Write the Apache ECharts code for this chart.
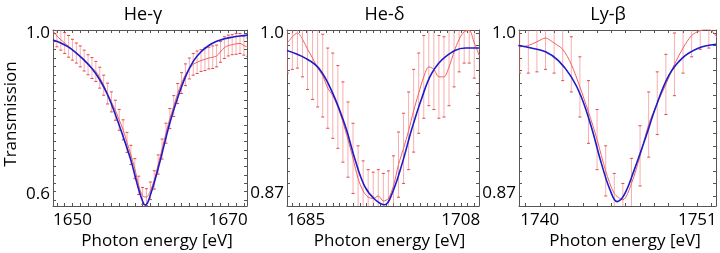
<!DOCTYPE html>
<html>
<head>
<meta charset="utf-8">
<script src="https://cdn.jsdelivr.net/npm/echarts@6/dist/echarts.min.js"></script>
<style>html,body{margin:0;padding:0;background:#fff}#c{width:720px;height:253px}</style>
</head>
<body>
<div id="c"></div>
<script>
// ---------- He-gamma ----------
const heG_E = [1647.5,1648.0,1648.5,1649.0,1649.5,1650.0,1650.5,1651.0,1651.5,1652.0,1652.5,1653.0,1653.5,1654.0,1654.5,1655.0,1655.5,1656.0,1656.5,1657.0,1657.5,1658.0,1658.5,1659.0,1659.5,1660.0,1660.5,1661.0,1661.5,1662.0,1662.5,1663.0,1663.5,1664.0,1664.5,1665.0,1665.5,1666.0,1666.5,1667.0,1667.5,1668.0,1668.5,1669.0,1669.5,1670.0,1670.5,1671.0,1671.5,1672.0,1672.5];
const heG_T = [1.005,0.993,0.984,0.976,0.968,0.960,0.952,0.944,0.934,0.924,0.916,0.908,0.893,0.875,0.855,0.835,0.815,0.792,0.768,0.738,0.708,0.675,0.635,0.610,0.607,0.622,0.648,0.685,0.722,0.760,0.795,0.825,0.855,0.880,0.900,0.915,0.925,0.930,0.934,0.937,0.940,0.942,0.945,0.955,0.965,0.970,0.972,0.974,0.975,0.970,0.966];
const heG_err = [0.026,0.026,0.025,0.025,0.026,0.025,0.024,0.025,0.025,0.024,0.025,0.024,0.025,0.024,0.025,0.024,0.024,0.025,0.024,0.024,0.023,0.024,0.022,0.020,0.020,0.021,0.022,0.023,0.024,0.024,0.024,0.025,0.024,0.025,0.026,0.025,0.026,0.027,0.026,0.027,0.026,0.027,0.026,0.025,0.026,0.025,0.024,0.025,0.024,0.023,0.022];
const heG_fitE = [1647.5,1648.5,1649.5,1650.5,1651.5,1652.5,1653.5,1654.5,1655.5,1656.5,1657.5,1658.0,1658.5,1659.0,1659.3,1659.6,1660.0,1660.5,1661.0,1661.5,1662.5,1663.5,1664.5,1665.5,1666.5,1667.5,1668.5,1669.5,1670.5,1671.5,1672.5];
const heG_fitT = [0.983,0.976,0.966,0.952,0.935,0.915,0.888,0.852,0.805,0.752,0.695,0.660,0.625,0.597,0.588,0.592,0.612,0.642,0.676,0.712,0.785,0.845,0.895,0.932,0.955,0.970,0.980,0.986,0.990,0.993,0.995];

// ---------- He-delta ----------
const heD_E = [1682.25,1683.0,1683.75,1684.5,1685.25,1686.0,1686.75,1687.5,1688.25,1689.0,1689.75,1690.5,1691.25,1692.0,1692.75,1693.5,1694.25,1695.0,1695.75,1696.5,1697.25,1698.0,1698.75,1699.5,1700.25,1701.0,1701.75,1702.5,1703.25,1704.0,1704.75,1705.5,1706.25,1707.0,1707.75,1708.5,1709.25,1710.0,1710.75];
const heD_T = [0.992,0.997,1.000,0.995,0.987,0.980,0.972,0.966,0.956,0.950,0.941,0.929,0.915,0.900,0.884,0.874,0.869,0.868,0.870,0.866,0.868,0.878,0.895,0.908,0.922,0.938,0.952,0.965,0.973,0.971,0.965,0.965,0.973,0.985,0.995,1.001,1.002,0.992,0.982];
const heD_err = [0.024,0.026,0.028,0.030,0.032,0.033,0.031,0.033,0.032,0.034,0.033,0.032,0.030,0.028,0.026,0.024,0.022,0.021,0.021,0.022,0.022,0.024,0.026,0.028,0.031,0.033,0.032,0.033,0.031,0.032,0.033,0.032,0.031,0.028,0.026,0.025,0.026,0.028,0.030];
const heD_fitE = [1682.2,1684.9,1686.9,1688.9,1690.9,1692.3,1693.8,1695.3,1696.7,1697.8,1699.3,1700.7,1702.2,1703.7,1705.7,1708.7,1710.7];
const heD_fitT = [0.986,0.980,0.972,0.953,0.925,0.899,0.877,0.867,0.863,0.872,0.896,0.923,0.948,0.968,0.981,0.988,0.988];

// ---------- Ly-beta ----------
const lyB_E = [1738.6,1739.2,1739.8,1740.4,1741.0,1741.6,1742.2,1742.8,1743.4,1744.0,1744.6,1745.2,1745.8,1746.4,1747.0,1747.6,1748.2,1748.8,1749.4,1750.0,1750.6,1751.2,1751.8,1752.4];
const lyB_T = [0.989,0.990,0.993,0.996,0.992,0.987,0.975,0.957,0.937,0.915,0.890,0.872,0.867,0.880,0.902,0.927,0.944,0.959,0.975,0.988,0.998,1.002,1.003,0.996];
const lyB_err = [0.021,0.022,0.024,0.025,0.024,0.025,0.022,0.024,0.025,0.024,0.020,0.016,0.013,0.020,0.024,0.026,0.025,0.024,0.025,0.020,0.017,0.015,0.015,0.020];
const lyB_fitE = [1738.5,1739.4,1740.4,1741.3,1742.2,1742.9,1743.6,1744.3,1744.9,1745.4,1745.9,1746.6,1747.4,1748.1,1749.0,1749.95,1751.1,1752.3];
const lyB_fitT = [0.990,0.988,0.985,0.978,0.965,0.949,0.925,0.896,0.875,0.8655,0.871,0.891,0.917,0.941,0.966,0.980,0.988,0.991];

// tick labels
const titles = ['He-γ','He-δ','Ly-β'];
const xLabels = [[1650,1670],[1685,1708],[1740,1751]];
const yLabels = [[0.6,1.0],[0.87,1.0],[0.87,1.0]];
const xName = 'Photon energy [eV]';
const yName = 'Transmission';

const FONT = '"Open Sans", "Noto Sans", sans-serif';
const panels = [
  {E:heG_E,T:heG_T,err:heG_err,fE:heG_fitE,fT:heG_fitT, xmin:1647.5,xmax:1672.4, ymin:0.5856,ymax:1.0072, ystep:0.02, xstep:1, dec:1, lift:12,
   grid:{left:53,top:30,width:194,height:176}, tx:143, nx:157},
  {E:heD_E,T:heD_T,err:heD_err,fE:heD_fitE,fT:heD_fitT, xmin:1682.2,xmax:1710.7, ymin:0.862,ymax:1.0024, ystep:0.01, xstep:1, dec:2, lift:5,
   grid:{left:287,top:30,width:192,height:176}, tx:384.5, nx:389.5},
  {E:lyB_E,T:lyB_T,err:lyB_err,fE:lyB_fitE,fT:lyB_fitT, xmin:1738.55,xmax:1752.3, ymin:0.862,ymax:1.0024, ystep:0.01, xstep:1, dec:2, lift:5,
   grid:{left:519,top:30,width:197,height:176}, tx:608, nx:625}
];

function ticks(a, b, step){
  const out = [];
  const s = Math.ceil(a/step - 1e-9);
  for (let k = s; k*step <= b + 1e-9; k++) out.push(+(k*step).toFixed(4));
  return out;
}

const grid = [], xAxis = [], yAxis = [], series = [], graphic = [];
const lineCol = '#555';
const txtCol = '#000';
panels.forEach((p, i) => {
  grid.push(Object.assign({containLabel:false}, p.grid));
  const xt = ticks(p.xmin, p.xmax, p.xstep);
  const yt = ticks(p.ymin, p.ymax, p.ystep);
  const baseX = {type:'value', gridIndex:i, min:p.xmin, max:p.xmax, splitLine:{show:false},
    axisLine:{show:true, onZero:false, lineStyle:{color:lineCol, width:1}},
    axisTick:{show:true, inside:true, length:3, customValues:xt, lineStyle:{color:lineCol}}};
  xAxis.push(Object.assign({}, baseX, {position:'bottom',
    axisLabel:{show:true, customValues:xLabels[i], margin:6, fontSize:17, color:txtCol, fontFamily:FONT,
      formatter: v => String(Math.round(v))}}));
  xAxis.push(Object.assign({}, baseX, {position:'top', axisLabel:{show:false}}));
  const baseY = {type:'value', gridIndex:i, min:p.ymin, max:p.ymax, splitLine:{show:false},
    axisLine:{show:true, onZero:false, lineStyle:{color:lineCol, width:1}},
    axisTick:{show:true, inside:true, length:3, customValues:yt, lineStyle:{color:lineCol}}};
  const dec = p.dec;
  yAxis.push(Object.assign({}, baseY, {position:'left',
    axisLabel:{show:true, customValues:yLabels[i], margin:3, fontSize:17, color:txtCol, fontFamily:FONT,
      formatter: v => (Math.abs(v-1) < 1e-9 ? '1.0' : '{lo|' + v.toFixed(dec) + '}'),
      rich:{lo:{fontSize:17, color:txtCol, fontFamily:FONT, padding:[0,0,p.lift,0]}}}}));
  yAxis.push(Object.assign({}, baseY, {position:'right', axisLabel:{show:false}}));
  const xi = 2*i, yi = 2*i;
  const ebData = p.E.map((e, k) => [e, p.T[k], p.err[k]]);
  series.push({type:'custom', xAxisIndex:xi, yAxisIndex:yi, clip:true, z:1,
    data: ebData,
    renderItem: (params, api) => {
      const x = api.value(0), v = api.value(1), e = api.value(2);
      const a = api.coord([x, v+e]), b = api.coord([x, v-e]);
      const w = 1.5;
      return {type:'group', children:[
        {type:'line', shape:{x1:a[0],y1:a[1],x2:b[0],y2:b[1]}, style:{stroke:'rgba(240,110,110,0.55)', lineWidth:1}},
        {type:'line', shape:{x1:a[0]-w,y1:a[1],x2:a[0]+w,y2:a[1]}, style:{stroke:'#e04848', lineWidth:1}},
        {type:'line', shape:{x1:b[0]-w,y1:b[1],x2:b[0]+w,y2:b[1]}, style:{stroke:'#e04848', lineWidth:1}}
      ]};
    }});
  series.push({type:'line', xAxisIndex:xi, yAxisIndex:yi, data:p.E.map((e,k)=>[e,p.T[k]]), smooth:0.3,
    showSymbol:false, symbol:'none', lineStyle:{color:'#f06060', width:1}, z:2, animation:false});
  series.push({type:'line', xAxisIndex:xi, yAxisIndex:yi, data:p.fE.map((e,k)=>[e,p.fT[k]]), smooth:0.4,
    showSymbol:false, symbol:'none', lineStyle:{color:'#1c1ccc', width:1.6}, z:3, animation:false});
  graphic.push({type:'text', x:p.tx, y:15, style:{text:titles[i], font:'18px ' + FONT, fill:txtCol, align:'center', verticalAlign:'middle'}});
  graphic.push({type:'text', x:p.nx, y:241, style:{text:xName, font:'17px ' + FONT, fill:txtCol, align:'center', verticalAlign:'middle'}});
});
graphic.push({type:'text', x:11, y:114, rotation:Math.PI/2, style:{text:yName, font:'17px ' + FONT, fill:txtCol, align:'center', verticalAlign:'middle'}});

const chart = echarts.init(document.getElementById('c'), null, {renderer:'canvas'});
chart.setOption({animation:false, backgroundColor:'#fff', grid, xAxis, yAxis, series, graphic});
</script>
</body>
</html>
